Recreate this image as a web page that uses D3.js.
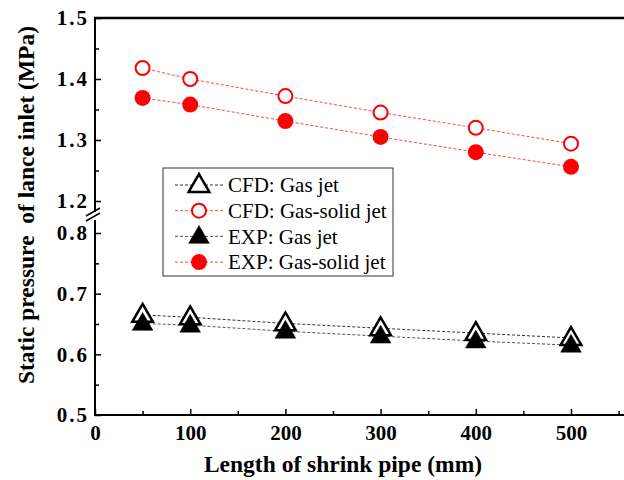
<!DOCTYPE html>
<html>
<head>
<meta charset="utf-8">
<script src="https://cdn.jsdelivr.net/npm/d3@7"></script>
<style>
  body { margin: 0; background: #fff; }
  svg text { font-family: "Liberation Serif", "Times New Roman", serif; }
</style>
</head>
<body>
<svg id="chart" width="624" height="480"></svg>
<script>
// data
let lengths = [50, 100, 200, 300, 400, 500]
let cfdGas = [0.665, 0.661, 0.651, 0.643, 0.635, 0.627]
let cfdGasSolid = [1.418, 1.400, 1.372, 1.345, 1.320, 1.294]
let expGas = [0.651, 0.648, 0.638, 0.630, 0.622, 0.615]
let expGasSolid = [1.369, 1.358, 1.331, 1.305, 1.280, 1.256]
let xTicks = [0, 100, 200, 300, 400, 500]
let lowTicks = [0.5, 0.6, 0.7, 0.8]
let highTicks = [1.2, 1.3, 1.4, 1.5]
let legendNames = ["CFD: Gas jet", "CFD: Gas-solid jet", "EXP: Gas jet", "EXP: Gas-solid jet"]

let svg = d3.select('#chart')
let plotLeft = 95, plotBottom = 415, plotTop = 18

let x = d3.scaleLinear().domain([0, 580]).range([plotLeft, plotLeft + 580 * 0.952])
// broken y axis: two pieces
let yLow = d3.scaleLinear().domain([0.5, 0.8]).range([plotBottom, 233])
let yHigh = d3.scaleLinear().domain([1.2, 1.5]).range([201, plotTop])
function y(v) { return v < 1 ? yLow(v) : yHigh(v) }

// frame: left axis, bottom axis, top border
svg.append('line').attr('x1', plotLeft).attr('x2', plotLeft).attr('y1', plotTop).attr('y2', plotBottom)
    .attr('stroke', '#000').attr('stroke-width', 2)
svg.append('line').attr('x1', plotLeft - 1).attr('x2', 624).attr('y1', plotBottom).attr('y2', plotBottom)
    .attr('stroke', '#000').attr('stroke-width', 2)
svg.append('line').attr('x1', plotLeft - 1).attr('x2', 624).attr('y1', plotTop).attr('y2', plotTop)
    .attr('stroke', '#000').attr('stroke-width', 2.5)

// x axis (ticks inward)
let xAxis = svg.append('g').attr('transform', `translate(0,${plotBottom})`)
    .call(d3.axisBottom(x).tickValues(xTicks).tickSize(-6).tickSizeOuter(0).tickPadding(10).tickFormat(d3.format('d')))
xAxis.select('.domain').remove()
xAxis.selectAll('line').attr('stroke-width', 1.5)
xAxis.selectAll('text').attr('font-size', 21).attr('font-weight', 'bold')
svg.append('g').attr('transform', `translate(0,${plotBottom})`)
    .call(d3.axisBottom(x).tickValues([50, 150, 250, 350, 450, 550]).tickSize(-4).tickFormat(''))
    .call(g => g.select('.domain').remove())
    .selectAll('line').attr('stroke-width', 1.5)

// y axis, two segments
function yPiece(scale, ticks) {
    let g = svg.append('g').attr('transform', `translate(${plotLeft},0)`)
        .call(d3.axisLeft(scale).tickValues(ticks).tickSize(-6).tickPadding(6).tickFormat(d3.format('.1f')))
    g.select('.domain').remove()
    g.selectAll('line').attr('stroke-width', 1.5)
    g.selectAll('text').attr('font-size', 21).attr('font-weight', 'bold').attr('letter-spacing', 2)
    let minor = ticks.slice(0, -1).map(function (d) { return d + 0.05 })
    svg.append('g').attr('transform', `translate(${plotLeft},0)`)
        .call(d3.axisLeft(scale).tickValues(minor).tickSize(-4).tickFormat(''))
        .call(g => g.select('.domain').remove())
        .selectAll('line').attr('stroke-width', 1.5)
}
yPiece(yLow, lowTicks)
yPiece(yHigh, highTicks)

// break marks
let brk = svg.append('g')
brk.append('rect').attr('x', plotLeft - 3).attr('y', 212).attr('width', 6).attr('height', 8).attr('fill', '#fff')
;[0, 5].forEach(function (off) {
    brk.append('line').attr('x1', plotLeft - 9).attr('y1', 216 + off).attr('x2', plotLeft + 5).attr('y2', 208 + off)
        .attr('stroke', '#000').attr('stroke-width', 1.5)
})

// series
let series = [
    {name: legendNames[0], vals: cfdGas, color: '#000', line: '#333', shape: 'tri', filled: false},
    {name: legendNames[1], vals: cfdGasSolid, color: '#f00', line: '#f44', shape: 'circle', filled: false},
    {name: legendNames[2], vals: expGas, color: '#000', line: '#555', shape: 'tri', filled: true},
    {name: legendNames[3], vals: expGasSolid, color: '#f00', line: '#f44', shape: 'circle', filled: true}
]

let triangle = d3.symbol().type(d3.symbolTriangle).size(185)

function drawMarker(g, s) {
    if (s.shape === 'circle') {
        g.append('circle').attr('r', s.filled ? 8 : 7)
            .attr('fill', s.filled ? s.color : '#fff')
            .attr('stroke', s.color).attr('stroke-width', s.filled ? 0 : 2)
    } else {
        g.append('path').attr('d', triangle).attr('transform', 'translate(0,1)')
            .attr('fill', s.filled ? s.color : '#fff')
            .attr('stroke', s.color).attr('stroke-width', s.filled ? 0.5 : 2.5)
    }
}

let line = d3.line().x(function (d) { return x(d[0]) }).y(function (d) { return y(d[1]) })

series.forEach(function (s) {
    svg.append('path').datum(d3.zip(lengths, s.vals))
        .attr('d', line).attr('fill', 'none')
        .attr('stroke', s.line).attr('stroke-width', 1).attr('stroke-dasharray', '3,2')
})
// open markers first, filled ones on top
;[1, 3, 0, 2].forEach(function (i) {
    let s = series[i]
    svg.append('g').selectAll('g').data(d3.zip(lengths, s.vals)).enter().append('g')
        .attr('transform', function (d) { return `translate(${x(d[0])},${y(d[1])})` })
        .each(function () { drawMarker(d3.select(this), s) })
})

// legend
let legend = svg.append('g').attr('transform', 'translate(163,168)')
legend.append('rect').attr('width', 230).attr('height', 108)
    .attr('fill', '#fff').attr('stroke', '#333').attr('stroke-width', 1)
series.forEach(function (s, i) {
    let row = legend.append('g').attr('transform', `translate(0,${17 + i * 25.7})`)
    row.append('line').attr('x1', 12).attr('x2', 60).attr('y1', 0).attr('y2', 0)
        .attr('stroke', s.line).attr('stroke-width', 1).attr('stroke-dasharray', '3,2')
    let m = row.append('g').attr('transform', 'translate(36,0)')
    drawMarker(m, s)
    row.append('text').attr('x', 65).attr('y', 0).attr('dy', '0.35em')
        .attr('font-size', 21).text(s.name)
})

// axis titles
svg.append('text').attr('x', 343).attr('y', 472).attr('text-anchor', 'middle')
    .attr('font-size', 23.5).attr('font-weight', 'bold').text('Length of shrink pipe (mm)')
svg.append('text').attr('transform', 'translate(34,205) rotate(-90)').attr('text-anchor', 'middle')
    .attr('font-size', 23.5).attr('font-weight', 'bold')
    .style('white-space', 'pre').text('Static pressure  of lance inlet (MPa)')
</script>
</body>
</html>
